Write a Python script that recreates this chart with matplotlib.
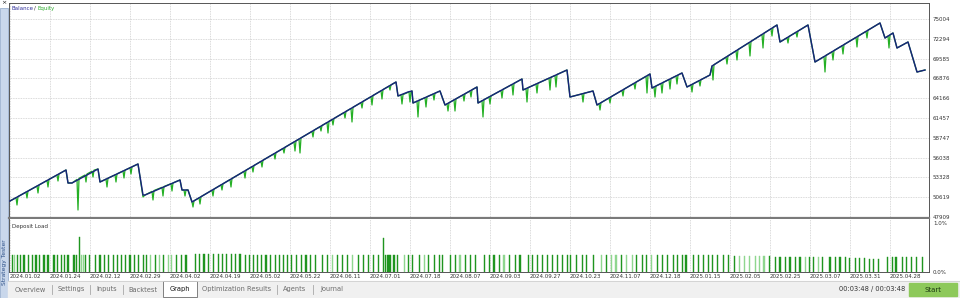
import matplotlib.pyplot as plt
from matplotlib.patches import Rectangle

W, H = 960, 298

# x axis = deal number scale, 10 units between date labels
date_ticks = list(range(0, 230, 10))
date_labels = ['2024.01.02', '2024.01.24', '2024.02.12', '2024.02.29', '2024.04.02',
               '2024.04.19', '2024.05.02', '2024.05.22', '2024.06.11', '2024.07.01',
               '2024.07.18', '2024.08.07', '2024.09.03', '2024.09.27', '2024.10.23',
               '2024.11.07', '2024.12.18', '2025.01.15', '2025.02.05', '2025.02.25',
               '2025.03.07', '2025.03.31', '2025.04.28']

price_ticks = [47909, 50619, 53328, 56038, 58747, 61457, 64166, 66876, 69585, 72294, 75004]

balance_x = [0, 14, 14.5, 15.5, 22, 22.5, 32, 33.25, 33.75, 42.5, 43, 44.5, 45.5, 96.5,
             97, 99.5, 100.5, 100.75, 107.5, 108.75, 116.75, 117, 128, 128.25, 139.25,
             140, 145.75, 146.75, 160, 160.5, 168, 169.25, 175, 175.5, 191.75, 192.5,
             199.5, 201.25, 217.5, 218.75, 220.75, 221.75, 224.5, 226.75, 228.75]
balance_y = [50098, 54340, 52562, 52562, 54477, 52698, 55162, 50919, 50919, 52972, 51604,
             51604, 49962, 66382, 64467, 65014, 65151, 63509, 65151, 63235, 65698, 63509,
             66793, 65288, 68024, 64330, 65151, 63235, 67477, 65561, 67614, 65698, 67340,
             68572, 74182, 71856, 74182, 69119, 74456, 72403, 73088, 71035, 71856, 67751,
             68024]

equity_x = [0, 1.5, 1.75, 2, 4, 4.25, 4.5, 6.75, 7, 7.25, 9.25, 9.5, 9.75, 11.75, 12, 12.25,
            14, 14.5, 15.5, 16.75, 17, 17.25, 18.75, 19, 19.25, 20.5, 20.75, 21, 22, 22.5,
            24, 24.25, 24.5, 26.25, 26.5, 26.75, 28.25, 28.5, 28.75, 30, 30.25, 30.5, 32,
            33.25, 33.75, 35.5, 35.75, 36, 38, 38.25, 38.5, 40.25, 40.5, 40.75, 42.5, 43,
            43.5, 43.75, 44, 44.5, 45.5, 45.75, 46, 47.25, 47.5, 47.75, 50.5, 50.75, 51,
            52.75, 53, 53.25, 55, 55.25, 55.5, 58.5, 58.75, 59, 60.5, 60.75, 61, 62.75, 63,
            63.25, 66, 66.25, 66.5, 68.25, 68.5, 68.75, 71, 71.25, 71.5, 72.25, 72.5, 72.75,
            75.5, 75.75, 76, 77.5, 77.75, 78, 79.25, 79.5, 79.75, 80.5, 80.75, 81, 83.5,
            83.75, 84, 85.25, 85.5, 85.75, 87.75, 88, 88.25, 90.25, 90.5, 90.75, 92.75, 93,
            93.25, 94.75, 95, 95.25, 96.5, 97, 97.75, 98, 98.25, 99.75, 100, 100.25, 100.5,
            100.75, 101.75, 102, 102.25, 103.75, 104, 104.25, 105.75, 106, 106.25, 107.5,
            108.75, 109.25, 109.5, 109.75, 111, 111.25, 111.5, 113.25, 113.5, 113.75, 115,
            115.25, 115.5, 116.75, 117, 118, 118.25, 118.5, 119.75, 120, 120.25, 122.75, 123,
            123.25, 125.5, 125.75, 126, 128, 128.25, 129, 129.25, 129.5, 131.5, 131.75, 132,
            134.75, 135, 135.25, 136.25, 136.5, 136.75, 139.25, 140, 143, 143.25, 143.5,
            145.75, 146.75, 147.25, 147.5, 147.75, 149.75, 150, 150.25, 153, 153.25, 153.5,
            156, 156.25, 156.5, 159, 159.25, 159.5, 160, 160.5, 161, 161.25, 161.5, 162.75,
            163, 163.25, 164.75, 165, 165.25, 166.5, 166.75, 167, 168, 169.25, 170.25, 170.5,
            170.75, 172.25, 172.5, 172.75, 175, 175.5, 175.75, 176, 179, 179.25, 179.5, 181.5,
            181.75, 182, 184.75, 185, 185.25, 188, 188.25, 188.5, 190.25, 190.5, 190.75,
            191.75, 192.5, 194.25, 194.5, 194.75, 196.5, 196.75, 197, 199.5, 201.25, 203.5,
            203.75, 204, 205.5, 205.75, 206, 208, 208.25, 208.5, 211.5, 211.75, 212, 214,
            214.25, 214.5, 217.5, 218.75, 219.5, 219.75, 220, 220.75, 221.75, 224.5, 226.75,
            228.75]
equity_y = [50098, 50550, 49551, 50700, 51316, 50509, 51467, 52137, 51193, 52288, 52903,
            52014, 53054, 53656, 52835, 53806, 54340, 52561, 52561, 53054, 48867, 53205,
            53656, 52698, 53806, 54176, 53382, 54326, 54477, 52698, 53081, 52014, 53218,
            53670, 52698, 53806, 54190, 53245, 54326, 54641, 53793, 54778, 55161, 50646,
            50919, 51412, 50235, 51535, 51973, 50782, 52082, 52466, 51467, 52575, 52972,
            51604, 51604, 50782, 51604, 51604, 49961, 49277, 50125, 50522, 49688, 50687,
            51576, 50782, 51727, 52301, 51604, 52452, 53027, 52014, 53177, 54149, 53245,
            54313, 54792, 54067, 54956, 55517, 54751, 55681, 56557, 55845, 56721, 57282,
            56666, 57446, 58172, 56940, 58336, 58569, 56666, 58733, 59622, 58856, 59786,
            60265, 59677, 60430, 60826, 59403, 60991, 61237, 60498, 61387, 62195, 61456,
            62359, 62756, 60909, 62920, 63563, 62824, 63727, 64371, 63235, 64535, 65178,
            64056, 65342, 65821, 65287, 65985, 66382, 64466, 64603, 63372, 64658, 65014,
            63645, 65082, 65151, 63509, 63755, 61593, 63878, 64234, 62961, 64357, 64726,
            63919, 64850, 65151, 63235, 63385, 62414, 63536, 63933, 62414, 64083, 64617,
            63782, 64767, 65151, 64330, 65315, 65698, 63509, 63809, 61593, 63960, 64330,
            63372, 64480, 65219, 64193, 65369, 66040, 64603, 66191, 66793, 65288, 65479,
            63645, 65602, 66095, 64877, 66218, 66902, 65287, 67025, 67272, 65698, 67408,
            68024, 64330, 64754, 63645, 64836, 65151, 63235, 63399, 62551, 63550, 64192,
            63509, 64357, 65233, 64466, 65397, 66191, 65424, 66355, 67162, 64877, 67313,
            67477, 65561, 65698, 64330, 65835, 66177, 64877, 66314, 66724, 65424, 66861,
            67203, 66108, 67340, 67614, 65698, 65985, 65014, 66122, 66546, 65835, 66697,
            67340, 68572, 66656, 68749, 69776, 68845, 69954, 70638, 69393, 70816, 71760,
            69940, 71938, 72882, 71035, 73060, 73662, 72677, 73840, 74182, 71856, 72430,
            71719, 72608, 73183, 72540, 73347, 74182, 69119, 69858, 67751, 70022, 70515,
            69393, 70679, 71336, 70214, 71500, 72485, 71172, 72649, 73306, 72403, 73470,
            74456, 72403, 72663, 71035, 72827, 73088, 71035, 71856, 67751, 68024]

load_x = [0.6, 1.1, 1.8, 2.7, 3.5, 4.7, 5.6, 6.5, 7.4, 8.5,
          9.5, 11.0, 11.8, 12.8, 13.7, 14.5, 16.0, 16.7, 17.3, 17.9,
          18.3, 18.8, 19.8, 21.4, 22.5, 23.6, 24.7, 25.8, 26.8, 27.8,
          28.9, 30.0, 31.2, 32.2, 33.3, 34.2, 35.2, 36.3, 37.3, 38.3,
          39.6, 40.4, 41.7, 42.9, 44.0, 46.3, 47.3, 48.5, 49.6, 50.8,
          52.1, 53.2, 54.2, 55.4, 56.4, 57.5, 58.8, 59.8, 60.8, 61.8,
          62.9, 64.0, 65.2, 66.3, 67.3, 68.3, 69.3, 70.4, 71.7, 72.9,
          74.0, 75.2, 76.3,
          78.2, 79.3, 80.6, 81.9, 83.2, 84.4, 85.7, 87.1, 88.3, 89.6,
          90.8, 92.1, 93.3, 93.9, 94.5, 95.0, 96.0, 96.8, 98.6, 99.7,
          100.6, 102.3, 103.6, 104.7, 106.1, 107.3, 108.2, 110.2, 111.3, 112.5,
          113.8, 115.2, 116.4, 118.6, 119.8, 121.0, 122.3, 123.5, 124.8, 126.3,
          127.5, 129.6, 130.7, 131.8, 133.1, 134.3, 135.6, 136.8, 138.1, 139.3,
          140.2, 141.7, 143.1, 144.2, 145.8, 147.9, 149.2, 150.4, 151.5, 152.9,
          154.2, 155.6, 156.7,
          158.2, 159.2, 160.4, 161.8, 163.2, 164.4, 165.8, 166.9, 168.2, 169.0,
          170.8, 172.1, 173.3, 174.6, 175.7, 176.9, 178.3, 179.6, 181.1, 182.3,
          183.6, 184.8, 186.3, 187.3, 188.5, 189.8, 191.3, 192.5, 193.8, 195.0,
          196.3, 197.5, 198.8, 199.8, 200.8, 202.1, 203.2, 205.0, 206.3, 207.5,
          208.8, 209.8, 211.3, 212.3, 213.6, 214.8, 215.8, 217.1, 219.3, 220.6,
          221.5, 223.1, 224.2, 225.4, 226.7, 228.2]
load_pct = [0.34, 0.34, 0.34, 0.34, 0.34, 0.34, 0.34, 0.34, 0.34, 0.34,
            0.34, 0.34, 0.34, 0.34, 0.34, 0.34, 0.34, 0.34, 0.70, 0.34,
            0.34, 0.34, 0.34, 0.34, 0.34, 0.34, 0.34, 0.34, 0.34, 0.34,
            0.34, 0.34, 0.34, 0.34, 0.34, 0.34, 0.34, 0.34, 0.34, 0.34,
            0.34, 0.34, 0.34, 0.34, 0.34, 0.36, 0.36, 0.36, 0.36, 0.36,
            0.36, 0.36, 0.36, 0.36, 0.36, 0.36, 0.34, 0.34, 0.34, 0.34,
            0.34, 0.34, 0.34, 0.34, 0.34, 0.34, 0.34, 0.34, 0.34, 0.34,
            0.34, 0.34, 0.34,
            0.34, 0.34, 0.34, 0.34, 0.34, 0.34, 0.34, 0.34, 0.34, 0.34,
            0.34, 0.34, 0.68, 0.34, 0.34, 0.34, 0.34, 0.34, 0.34, 0.34,
            0.34, 0.34, 0.34, 0.34, 0.34, 0.34, 0.34, 0.34, 0.34, 0.34,
            0.34, 0.34, 0.34, 0.34, 0.34, 0.34, 0.34, 0.34, 0.34, 0.34,
            0.34, 0.34, 0.34, 0.34, 0.34, 0.34, 0.34, 0.34, 0.34, 0.34,
            0.34, 0.34, 0.34, 0.34, 0.34, 0.34, 0.34, 0.34, 0.34, 0.34,
            0.34, 0.34, 0.34,
            0.33, 0.33, 0.33, 0.33, 0.33, 0.33, 0.33, 0.33, 0.33, 0.33,
            0.33, 0.33, 0.33, 0.33, 0.33, 0.33, 0.33, 0.33, 0.32, 0.32,
            0.32, 0.32, 0.32, 0.32, 0.32, 0.32, 0.30, 0.30, 0.30, 0.29,
            0.29, 0.29, 0.29, 0.29, 0.29, 0.29, 0.29, 0.29, 0.29, 0.29,
            0.29, 0.28, 0.28, 0.27, 0.27, 0.26, 0.26, 0.26, 0.30, 0.30,
            0.30, 0.30, 0.30, 0.30, 0.30, 0.30]
load_light = [0, 1, 0, 0, 0, 0, 0, 0, 0, 0,
              0, 0, 0, 0, 0, 0, 0, 0, 0, 1,
              1, 0, 0, 0, 0, 0, 0, 0, 0, 0,
              0, 0, 0, 0, 0, 0, 1, 0, 1, 0,
              1, 1, 0, 0, 0, 0, 0, 0, 0, 0,
              0, 0, 0, 0, 0, 0, 0, 0, 0, 0,
              0, 0, 0, 0, 0, 0, 0, 0, 0, 0,
              0, 0, 0,
              0, 0, 1, 0, 0, 0, 1, 0, 0, 0,
              0, 0, 0, 0, 0, 0, 0, 0, 1, 0,
              0, 0, 1, 0, 0, 0, 0, 0, 0, 1,
              0, 0, 0, 0, 0, 0, 0, 1, 0, 0,
              0, 0, 0, 0, 0, 0, 0, 0, 0, 0,
              0, 0, 0, 0, 0, 1, 0, 1, 1, 0,
              1, 1, 0,
              0, 0, 1, 0, 0, 0, 0, 0, 0, 0,
              0, 0, 0, 0, 0, 0, 0, 0, 0, 1,
              1, 1, 1, 1, 1, 0, 0, 0, 0, 0,
              0, 0, 1, 0, 0, 1, 0, 0, 0, 0,
              0, 0, 0, 0, 0, 0, 0, 0, 0, 0,
              0, 0, 0, 0, 0, 0]

tab_names = ['Overview', 'Settings', 'Inputs', 'Backtest', 'Graph',
             'Optimization Results', 'Agents', 'Journal']


def px_rect(x0, y0, x1, y1):
    return [x0 / W, 1 - y1 / H, (x1 - x0) / W, (y1 - y0) / H]


plt.rcParams['font.family'] = ['DejaVu Sans']
fig = plt.figure(figsize=(W / 100, H / 100), dpi=100)

# window chrome
ui = fig.add_axes([0, 0, 1, 1])
ui.set_xlim(0, W)
ui.set_ylim(H, 0)
ui.axis('off')
ui.add_patch(Rectangle((0, 0), W, H, color='white'))
ui.add_patch(Rectangle((0, 8), 8, H - 8, facecolor='#c9d7eb', edgecolor='#8ea6c8', lw=0.5))
ui.text(4, 2.5, '×', fontsize=4.5, ha='center', va='center', color='#222')
ui.text(4.3, 262, 'Strategy Tester', rotation=90, fontsize=4.3, ha='center', va='center',
        color='#2b4f87')
ui.add_patch(Rectangle((8, 281), W - 8, 17, color='#f0f0f0'))
ui.plot([8, W], [281, 281], color='#cfcfcf', lw=0.6)
tab_pos = [30, 71, 107, 143, 180, 237, 295, 332]
for name, xc in zip(tab_names, tab_pos):
    if name == 'Graph':
        ui.add_patch(Rectangle((163, 281), 34, 16, facecolor='white', edgecolor='#6d6d6d', lw=0.6))
        ui.text(xc, 289.5, name, fontsize=4.8, ha='center', va='center', color='#111')
    else:
        ui.text(xc, 289.5, name, fontsize=4.8, ha='center', va='center', color='#6b6b6b')
for xs in [52, 90, 123, 277, 313]:
    ui.plot([xs, xs], [285, 294], color='#a8a8a8', lw=0.6)
ui.text(872, 289.5, '00:03:48 / 00:03:48', fontsize=4.8, ha='center', va='center', color='#333')
ui.add_patch(Rectangle((909, 283), 48, 13, color='#8dc95a'))
ui.text(933, 289.5, 'Start', fontsize=5, ha='center', va='center', color='#1d3b12')

grid_style = dict(color='#c4c4c4', lw=0.5, ls=(0, (1.2, 1.2)))

# balance / equity panel
ax = fig.add_axes(px_rect(9, 3, 929, 218))
ax.set_xlim(-0.25, 229.75)
ax.set_ylim(47772, 77192)
ax.plot(equity_x, equity_y, color='#25b025', lw=0.9, zorder=2)
ax.plot(balance_x, balance_y, color='#17237a', lw=1.05, zorder=3)
ax.set_xticks(date_ticks)
ax.set_yticks(price_ticks)
ax.set_yticklabels([str(v) for v in price_ticks])
ax.yaxis.tick_right()
ax.tick_params(axis='y', length=0, pad=2.8, labelsize=4, labelcolor='#333')
ax.tick_params(axis='x', length=0, labelbottom=False)
ax.grid(True, **grid_style)
ax.set_axisbelow(True)
for s in ['left', 'top', 'right']:
    ax.spines[s].set_color('#555')
    ax.spines[s].set_linewidth(0.7)
ax.spines['bottom'].set_color('#7a7a7a')
ax.spines['bottom'].set_linewidth(1.6)
ax.text(0.003, 0.975, 'Balance', transform=ax.transAxes, fontsize=4, color='#2f2f9a', va='center')
ax.text(0.0275, 0.975, '/', transform=ax.transAxes, fontsize=4, color='#333', va='center')
ax.text(0.0305, 0.975, 'Equity', transform=ax.transAxes, fontsize=4, color='#2faa2f', va='center')

# deposit load panel
axb = fig.add_axes(px_rect(9, 219, 929, 272))
axb.set_xlim(-0.25, 229.75)
axb.set_ylim(-0.01, 1.08)
colors = ['#8fd68f' if f else '#1f951f' for f in load_light]
axb.bar(load_x, load_pct, width=0.3, color=colors, edgecolor=colors, lw=0.3)
axb.set_yticks([0, 1])
axb.set_yticklabels(['0.0%', '1.0%'])
axb.yaxis.tick_right()
axb.tick_params(axis='y', length=0, pad=2.8, labelsize=4, labelcolor='#333')
axb.set_xticks(date_ticks)
axb.set_xticklabels(date_labels)
axb.tick_params(axis='x', length=0, pad=1.5, labelsize=4, labelcolor='#333')
for lbl in axb.get_xticklabels():
    lbl.set_ha('left')
axb.grid(True, axis='x', **grid_style)
axb.set_axisbelow(True)
axb.spines['top'].set_visible(False)
for s in ['left', 'bottom', 'right']:
    axb.spines[s].set_color('#555')
    axb.spines[s].set_linewidth(0.7)
axb.text(0.003, 0.86, 'Deposit Load', transform=axb.transAxes, fontsize=4, color='#333', va='center')

fig.savefig('out.png', dpi=100)
